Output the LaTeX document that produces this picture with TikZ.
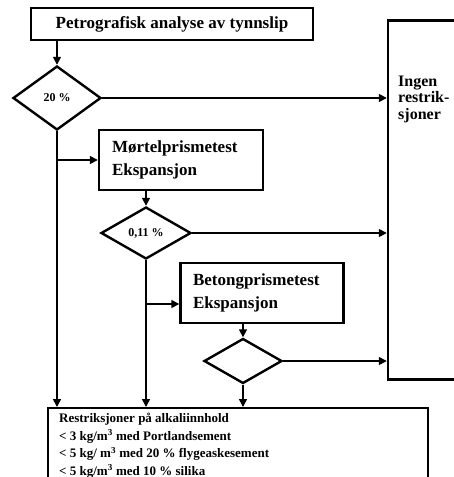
\documentclass[tikz,border=0pt]{standalone}
\usepackage{fontspec}
\setmainfont{Liberation Serif}
\usetikzlibrary{arrows.meta, positioning, shapes.geometric, calc}

\tikzset{
  box/.style={draw, line width=2.4pt, inner sep=0pt, font=\bfseries\fontsize{17}{23}\selectfont},
  testbox/.style={box, align=left, text width=138pt, minimum width=164pt, minimum height=60pt},
  check/.style={diamond, draw, line width=2.4pt, inner sep=0pt, font=\bfseries\fontsize{12}{14}\selectfont},
  flow/.style={line width=1.6pt, -{Triangle[length=8pt,width=8pt]}},
  wire/.style={line width=1.6pt}
}

\begin{document}
\begin{tikzpicture}[x=1pt, y=-1pt]
        \useasboundingbox (0,0) rectangle (454,477);
        \clip (0,0) rectangle (454,477);
        \fill[white] (0,0) rectangle (454,477);

        \node[box, minimum width=282pt, minimum height=32pt] (petro) at (172,24) {Petrografisk analyse av tynnslip};
        \node[check, minimum width=88pt, minimum height=64pt] (d1) at (57,98) {20 \%};
        \node[testbox] (mortel) at (181,160) {Mørtelprismetest\\Ekspansjon};
        \node[check, minimum width=90pt, minimum height=52pt] (d2) at (146,233) {0,11 \%};
        \node[testbox, minimum width=163pt] (betong) at (262,293) {Betongprismetest\\Ekspansjon};
        \node[check, minimum width=78pt, minimum height=45pt] (d3) at (243,361) {};
        \node[box, minimum width=90pt, minimum height=359pt] (ingen) at (433,200) {};
        \node[anchor=west, align=left, inner sep=0pt, font=\bfseries\fontsize{16}{16.5}\selectfont] (ingentxt) at (398,99) {Ingen\\restrik-\\sjoner};
        \node[box, anchor=north west, minimum width=380pt, minimum height=80pt] (restr) at (47,407) {};
        \node[anchor=north west, align=left, inner sep=0pt, font=\bfseries\fontsize{13}{17.5}\selectfont] (restrtxt) at (59,413)
          {Restriksjoner på alkaliinnhold\\
           < 3 kg/m\textsuperscript{3} med Portlandsement\\
           < 5 kg/ m\textsuperscript{3} med 20 \% flygeaskesement\\
           < 5 kg/m\textsuperscript{3} med 10 \% silika};

        \draw[flow] (d1.north |- petro.south) -- (d1.north);
        \draw[flow] (d1.east) -- (ingen.west |- d1.east);
        \draw[flow] (d1.south) -- (d1.south |- restr.north);
        \draw[flow] (d1.south |- mortel.west) -- (mortel.west);

        \draw[flow] (d2.north |- mortel.south) -- (d2.north);
        \draw[flow] (d2.east) -- (ingen.west |- d2.east);
        \draw[flow] (d2.south) -- (d2.south |- restr.north);
        \coordinate (split) at (d2.south |- 0,304);
        \draw[flow] (split) -- (betong.west |- split);

        \draw[flow] (d3.north |- betong.south) -- (d3.north);
        \draw[flow] (d3.east) -- (ingen.west |- d3.east);
        \draw[flow] (d3.south) -- (d3.south |- restr.north);
      \end{tikzpicture}
\end{document}
